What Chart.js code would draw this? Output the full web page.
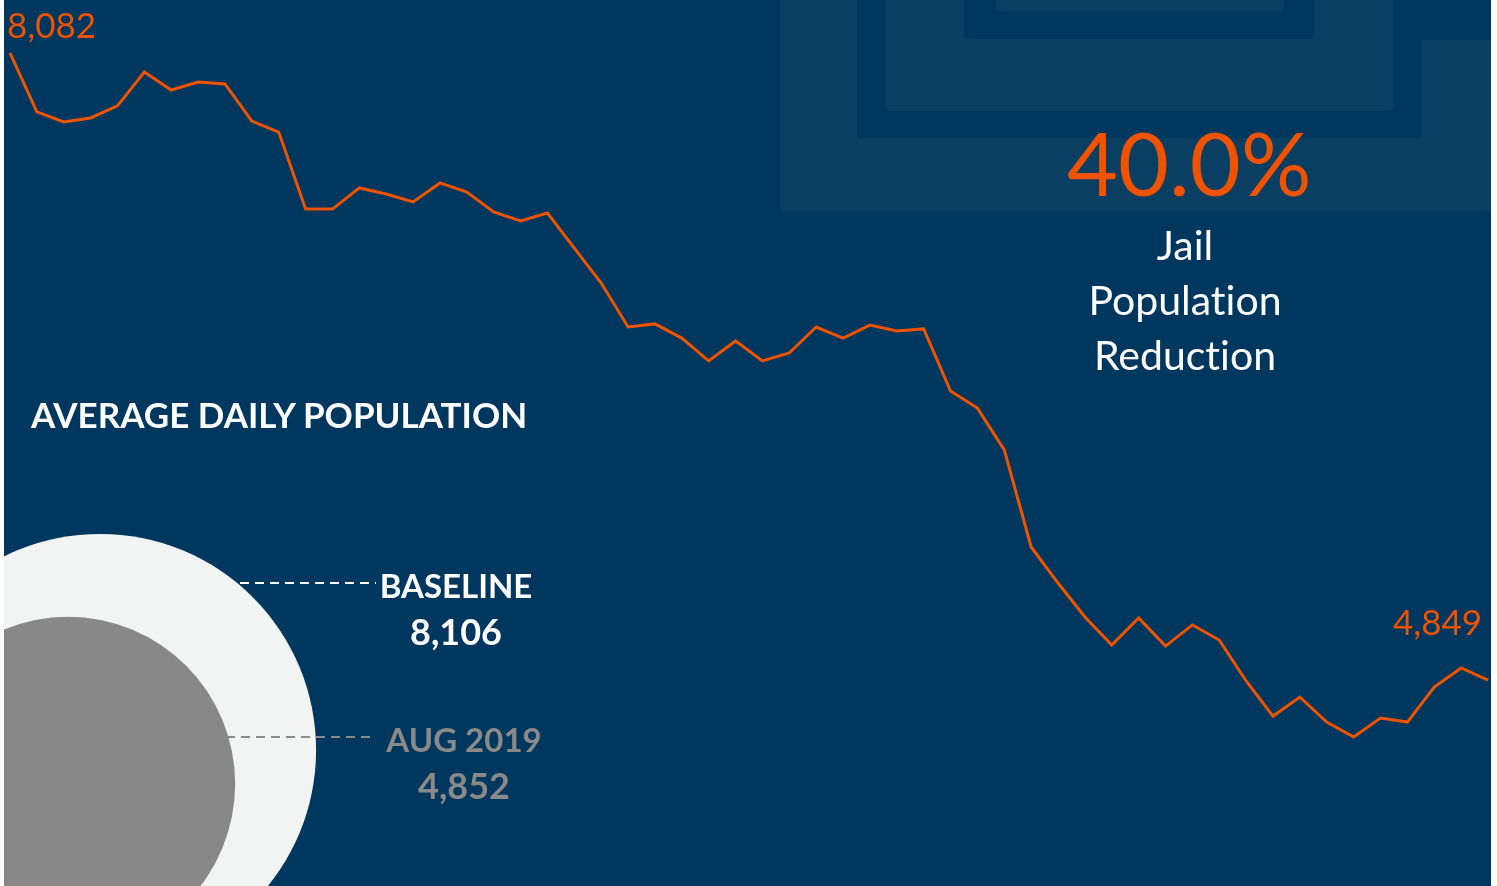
<!DOCTYPE html>
<html>
<head>
<meta charset="utf-8">
<script src="https://cdn.jsdelivr.net/npm/chart.js@4.4.1/dist/chart.umd.min.js"></script>
<style>
  html, body { margin: 0; padding: 0; background: #ffffff; }
  #panel {
    position: absolute; left: 4px; top: 0; width: 1487px; height: 886px;
    background: #00375e; overflow: hidden; font-family: "Lato", sans-serif;
    font-variant-ligatures: none;
  }
  #chart { position: absolute; left: 0; top: 0; }
  .txt { position: absolute; white-space: nowrap; line-height: 1; }
  .orange { color: #f05300; font-weight: 400; }
  .end-label { font-size: 35px; }
  #pct { font-size: 88px; left: 1063px; top: 118px; }
  #reduction { left: 1081px; top: 217px; width: 200px; text-align: center; color: #ffffff; font-size: 41px; line-height: 55px; }
  #title { left: 27px; top: 397px; color: #ffffff; font-size: 35px; font-weight: 700; }
  .stat { text-align: center; font-weight: 700; width: 200px; }
  .stat .name { font-size: 33px; }
  .stat .num { font-size: 36px; margin-top: 11px; }
  #base { left: 352px; top: 569px; color: #ffffff; }
  #aug { left: 360px; top: 723px; color: #8a8a8a; }
</style>
</head>
<body>
<div id="panel">
  <canvas id="chart" width="1487" height="886"></canvas>
  <div class="txt orange end-label" id="firstLabel"></div>
  <div class="txt orange end-label" id="lastLabel"></div>
  <div class="txt orange" id="pct"></div>
  <div class="txt" id="reduction">Jail<br>Population<br>Reduction</div>
  <div class="txt" id="title">AVERAGE DAILY POPULATION</div>
  <div class="txt stat" id="base"><div class="name">BASELINE</div><div class="num" id="baseNum"></div></div>
  <div class="txt stat" id="aug"><div class="name" id="augName"></div><div class="num" id="augNum"></div></div>
</div>
<script>
// monthly average daily jail population, Jan 2015 - Aug 2019
const population = [
  8082, 7778, 7726, 7747, 7809, 7984, 7891, 7932, 7922, 7731, 7674, 7277,
  7277, 7386, 7355, 7314, 7412, 7365, 7262, 7216, 7257, 7076, 6896, 6669,
  6685, 6612, 6494, 6597, 6494, 6535, 6669, 6612, 6679, 6648, 6659, 6339,
  6251, 6035, 5535, 5349, 5174, 5029, 5169, 5024, 5133, 5055, 4844, 4663,
  4761, 4632, 4555, 4653, 4632, 4813, 4911, 4849
];
const monthNames = ["JAN", "FEB", "MAR", "APR", "MAY", "JUN", "JUL", "AUG", "SEP", "OCT", "NOV", "DEC"];
const months = population.map((v, i) => monthNames[i % 12] + " " + (2015 + Math.floor(i / 12)));

const baseline = 8106;
const current = 4852;
const currentLabel = "AUG 2019";
const reductionPct = 40.0; // as printed on the graphic

const fmt = (n) => n.toLocaleString("en-US");

document.getElementById("pct").textContent = reductionPct.toFixed(1) + "%";
document.getElementById("baseNum").textContent = fmt(baseline);
document.getElementById("augName").textContent = currentLabel;
document.getElementById("augNum").textContent = fmt(current);

const NAVY_LIGHT = "#0a3e63";
const NAVY = "#00375e";

// faint nested squares behind the headline figure
const backdrop = {
  id: "backdrop",
  beforeDatasetsDraw(chart) {
    const ctx = chart.ctx;
    const box = (x0, y0, x1, y1, color) => {
      ctx.fillStyle = color;
      ctx.beginPath();
      ctx.roundRect(x0 - 4, y0, x1 - x0, y1 - y0, 4);
      ctx.fill();
    };
    ctx.save();
    box(780, -10, 1496, 211, NAVY_LIGHT);
    box(857, -10, 1422, 138, NAVY);
    box(1422, -10, 1496, 40, NAVY);
    box(886, -10, 1393, 111, NAVY_LIGHT);
    box(964, -10, 1314, 39, NAVY);
    box(996, -10, 1284, 11, NAVY_LIGHT);

    // area-proportional circles: baseline vs current
    const k = 2.4;
    const rBase = k * Math.sqrt(baseline);
    const rCur = k * Math.sqrt(current);
    ctx.fillStyle = "#f2f4f4";
    ctx.beginPath();
    ctx.arc(96, 750, rBase, 0, Math.PI * 2);
    ctx.fill();
    ctx.fillStyle = "#888888";
    ctx.beginPath();
    ctx.arc(64, 784, rCur, 0, Math.PI * 2);
    ctx.fill();

    ctx.lineWidth = 2;
    ctx.setLineDash([9, 6]);
    ctx.strokeStyle = "#ffffff";
    ctx.beginPath();
    ctx.moveTo(236, 583);
    ctx.lineTo(372, 583);
    ctx.stroke();
    ctx.strokeStyle = "#8a8a8a";
    ctx.beginPath();
    ctx.moveTo(222, 737);
    ctx.lineTo(372, 737);
    ctx.stroke();
    ctx.restore();
  },
  afterDraw(chart) {
    const pts = chart.getDatasetMeta(0).data;
    const first = pts[0];
    const last = pts[pts.length - 1];
    const a = document.getElementById("firstLabel");
    a.textContent = fmt(population[0]);
    a.style.left = (first.x - 3) + "px";
    a.style.top = (first.y - 46) + "px";
    const b = document.getElementById("lastLabel");
    b.textContent = fmt(population[population.length - 1]);
    b.style.left = (last.x - 95) + "px";
    b.style.top = (last.y - 76) + "px";
  }
};

const ctx = document.getElementById("chart").getContext("2d");
new Chart(ctx, {
  type: "line",
  data: {
    labels: months,
    datasets: [
      {
        label: "Average daily population",
        data: population,
        borderColor: "#f05300",
        borderWidth: 3,
        pointRadius: 0,
        tension: 0,
        fill: false,
      },
    ],
  },
  options: {
    responsive: false,
    animation: false,
    layout: { padding: { left: 6, right: 3, top: 0, bottom: 0 } },
    plugins: { legend: { display: false }, tooltip: { enabled: false } },
    scales: {
      x: { display: false, offset: false },
      y: { display: false, min: 3787, max: 8355 },
    },
  },
  plugins: [backdrop],
});
</script>
</body>
</html>
